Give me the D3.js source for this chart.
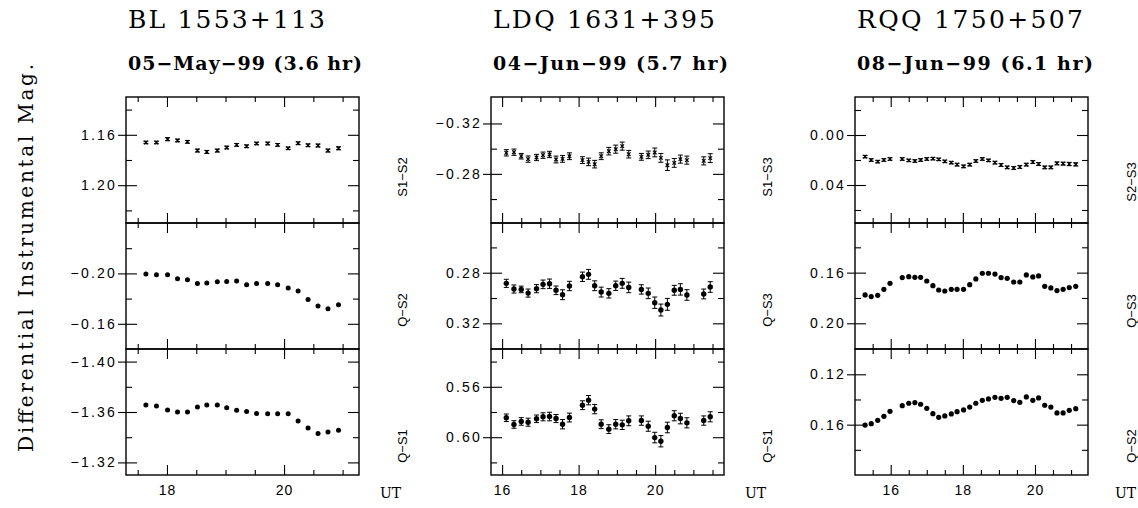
<!DOCTYPE html>
<html>
<head>
<meta charset="utf-8">
<script src="https://cdn.jsdelivr.net/npm/d3@7"></script>
<style>
    body { margin: 0; background: #fff; }
    svg { display: block; }
    .tick text { font-family: "Liberation Sans", Arial, sans-serif; font-size: 14px; letter-spacing: 2.2px; fill: #000; }
    .tick line { stroke: #000; stroke-width: 1.1; }
    .serif { font-family: "DejaVu Serif", "Liberation Serif", serif; fill: #000; }
    .sans { font-family: "Liberation Sans", Arial, sans-serif; fill: #000; }
</style>
</head>
<body>
<div id="chart"></div>
<script>
// ---- BL 1553+113, 05-May-99 ----
const utBL = [17.64, 17.82, 18.01, 18.18, 18.35, 18.52, 18.68, 18.86, 19.02, 19.19,
              19.36, 19.53, 19.72, 19.89, 20.07, 20.24, 20.41, 20.58, 20.75, 20.93];
const blS1S2 = [1.1661, 1.1661, 1.1635, 1.1645, 1.1656, 1.1725, 1.1736, 1.1725, 1.1701, 1.1680,
                1.1691, 1.1669, 1.1669, 1.1680, 1.1707, 1.1667, 1.1683, 1.1685, 1.1725, 1.1707];
const blS1S2Err = [0.0010, 0.0010, 0.0012, 0.0011, 0.0011, 0.0012, 0.0012, 0.0012, 0.0011, 0.0011,
                   0.0011, 0.0010, 0.0011, 0.0011, 0.0010, 0.0011, 0.0011, 0.0012, 0.0012, 0.0012];
const blQS2 = [-0.1995, -0.1989, -0.1989, -0.1957, -0.1949, -0.1920, -0.1923, -0.1933, -0.1936, -0.1939,
               -0.1909, -0.1920, -0.1920, -0.1909, -0.1885, -0.1861, -0.1792, -0.1741, -0.1720, -0.1752];
const blQS1 = [-1.3655, -1.3647, -1.3616, -1.3600, -1.3600, -1.3639, -1.3655, -1.3655, -1.3634, -1.3613,
               -1.3603, -1.3589, -1.3587, -1.3587, -1.3587, -1.3529, -1.3474, -1.3429, -1.3442, -1.3455];

// ---- LDQ 1631+395, 04-Jun-99 ----
const utLDQ = [16.11, 16.31, 16.50, 16.68, 16.90, 17.07, 17.24, 17.41, 17.58, 17.76,
               18.10, 18.26, 18.42, 18.59, 18.79, 18.97, 19.14, 19.31, 19.64, 19.82,
               19.99, 20.15, 20.32, 20.50, 20.66, 20.83, 21.27, 21.44];
const ldqS1S3 = [-0.2967, -0.2972, -0.2940, -0.2917, -0.2930, -0.2948, -0.2954, -0.2914, -0.2919, -0.2940,
                 -0.2909, -0.2895, -0.2877, -0.2940, -0.2980, -0.2996, -0.3020, -0.2956, -0.2935, -0.2951,
                 -0.2970, -0.2927, -0.2869, -0.2887, -0.2917, -0.2909, -0.2903, -0.2925];
const ldqS1S3Err = [0.0025, 0.0025, 0.0022, 0.0025, 0.0025, 0.0025, 0.0025, 0.0027, 0.0027, 0.0027,
                    0.0027, 0.0030, 0.0030, 0.0027, 0.0030, 0.0032, 0.0032, 0.0030, 0.0027, 0.0030,
                    0.0035, 0.0035, 0.0042, 0.0035, 0.0032, 0.0032, 0.0032, 0.0035];
const ldqQS3 = [0.2884, 0.2929, 0.2932, 0.2961, 0.2926, 0.2892, 0.2887, 0.2939, 0.2974, 0.2905,
                0.2832, 0.2813, 0.2903, 0.2953, 0.2963, 0.2903, 0.2884, 0.2916, 0.2932, 0.2963,
                0.3037, 0.3095, 0.3050, 0.2939, 0.2932, 0.2976, 0.2968, 0.2913];
const ldqQS3Err = [0.0032, 0.0032, 0.0026, 0.0032, 0.0032, 0.0034, 0.0037, 0.0034, 0.0039, 0.0037,
                   0.0037, 0.0039, 0.0039, 0.0039, 0.0037, 0.0037, 0.0039, 0.0042, 0.0037, 0.0042,
                   0.0045, 0.0047, 0.0047, 0.0039, 0.0045, 0.0042, 0.0039, 0.0042];
const ldqQS1 = [0.5846, 0.5899, 0.5875, 0.5881, 0.5854, 0.5838, 0.5836, 0.5852, 0.5897, 0.5844,
                0.5746, 0.5706, 0.5777, 0.5897, 0.5936, 0.5897, 0.5902, 0.5870, 0.5868, 0.5913,
                0.6003, 0.6032, 0.5923, 0.5830, 0.5852, 0.5886, 0.5868, 0.5838];
const ldqQS1Err = [0.0030, 0.0030, 0.0030, 0.0032, 0.0030, 0.0032, 0.0034, 0.0032, 0.0037, 0.0035,
                   0.0035, 0.0037, 0.0037, 0.0035, 0.0035, 0.0037, 0.0037, 0.0039, 0.0037, 0.0040,
                   0.0042, 0.0045, 0.0042, 0.0040, 0.0042, 0.0040, 0.0037, 0.0040];

// ---- RQQ 1750+507, 08-Jun-99 ----
const utRQQ = [15.29, 15.46, 15.64, 15.81, 15.98, 16.32, 16.50, 16.67, 16.83, 17.00,
               17.17, 17.33, 17.50, 17.68, 17.84, 18.02, 18.19, 18.36, 18.54, 18.71,
               18.89, 19.06, 19.23, 19.41, 19.58, 19.76, 19.94, 20.10, 20.27, 20.44,
               20.61, 20.78, 20.95, 21.13];
const rqqS2S3 = [0.0173, 0.0200, 0.0213, 0.0200, 0.0192, 0.0192, 0.0203, 0.0208, 0.0200, 0.0192,
                 0.0189, 0.0195, 0.0211, 0.0221, 0.0237, 0.0251, 0.0237, 0.0208, 0.0192, 0.0203,
                 0.0221, 0.0240, 0.0259, 0.0264, 0.0256, 0.0237, 0.0216, 0.0232, 0.0259, 0.0259,
                 0.0227, 0.0229, 0.0232, 0.0235];
const rqqS2S3Err = [0.0010, 0.0010, 0.0010, 0.0010, 0.0010, 0.0010, 0.0010, 0.0010, 0.0010, 0.0010,
                    0.0010, 0.0010, 0.0010, 0.0010, 0.0011, 0.0011, 0.0011, 0.0010, 0.0010, 0.0010,
                    0.0011, 0.0011, 0.0011, 0.0011, 0.0011, 0.0011, 0.0011, 0.0011, 0.0011, 0.0011,
                    0.0012, 0.0012, 0.0013, 0.0013];
const rqqQS3 = [0.1776, 0.1789, 0.1779, 0.1732, 0.1684, 0.1639, 0.1632, 0.1637, 0.1637, 0.1666,
                0.1703, 0.1737, 0.1745, 0.1732, 0.1732, 0.1732, 0.1695, 0.1650, 0.1605, 0.1605,
                0.1611, 0.1639, 0.1645, 0.1674, 0.1674, 0.1618, 0.1634, 0.1626, 0.1708, 0.1721,
                0.1742, 0.1732, 0.1718, 0.1708];
const rqqQS2 = [0.1603, 0.1592, 0.1566, 0.1534, 0.1494, 0.1449, 0.1430, 0.1425, 0.1438, 0.1470,
                0.1513, 0.1542, 0.1531, 0.1515, 0.1497, 0.1483, 0.1460, 0.1430, 0.1407, 0.1396,
                0.1383, 0.1391, 0.1383, 0.1409, 0.1423, 0.1380, 0.1407, 0.1388, 0.1446, 0.1460,
                0.1507, 0.1507, 0.1486, 0.1473];

// Titles and labels
const objectNames = ["BL 1553+113", "LDQ 1631+395", "RQQ 1750+507"];
const nightLabels = ["05\u2212May\u221299 (3.6 hr)", "04\u2212Jun\u221299 (5.7 hr)", "08\u2212Jun\u221299 (6.1 hr)"];
const rowLabelsBL = ["S1\u2212S2", "Q\u2212S2", "Q\u2212S1"];
const rowLabelsLDQ = ["S1\u2212S3", "Q\u2212S3", "Q\u2212S1"];
const rowLabelsRQQ = ["S2\u2212S3", "Q\u2212S3", "Q\u2212S2"];

// Layout
const W = 1138, H = 508;
const panelWidth = 233;
const rowTop = [97, 223, 349];
const rowHeight = 126;

const panels = [
    {
        left: 126, xDomain: [17.30, 21.28], ut: utBL, labels: rowLabelsBL,
        titleW: 197, subW: 234, labelY: [177, 310, 446], utX: 380, r: 2.5,
        rows: [
            { values: blS1S2, err: blS1S2Err, mark: "cross", yDomain: [1.13, 1.23] },
            { values: blQS2, err: null, mark: "dot", yDomain: [-0.24, -0.14] },
            { values: blQS1, err: null, mark: "dot", yDomain: [-1.41, -1.31] }
        ]
    },
    {
        left: 491, xDomain: [15.71, 21.80], ut: utLDQ, labels: rowLabelsLDQ,
        titleW: 222, subW: 235, labelY: [177, 310, 446], utX: 745, r: 2.7,
        rows: [
            { values: ldqS1S3, err: ldqS1S3Err, mark: "cross", yDomain: [-0.341, -0.241] },
            { values: ldqQS3, err: ldqQS3Err, mark: "dot", yDomain: [0.2407, 0.3403] },
            { values: ldqQS1, err: ldqQS1Err, mark: "dot", yDomain: [0.530, 0.630] }
        ]
    },
    {
        left: 855, xDomain: [15.01, 21.47], ut: utRQQ, labels: rowLabelsRQQ,
        titleW: 226, subW: 236, labelY: [182, 311, 446], utX: 1115, r: 2.6,
        rows: [
            { values: rqqS2S3, err: rqqS2S3Err, mark: "cross", yDomain: [-0.0304, 0.0704] },
            { values: rqqQS3, err: null, mark: "dot", yDomain: [0.1208, 0.2203] },
            { values: rqqQS2, err: null, mark: "dot", yDomain: [0.0999, 0.20] }
        ]
    }
];

const svg = d3.select("#chart").append("svg")
    .attr("width", W)
    .attr("height", H);

// Shared y-axis title
svg.append("text")
    .attr("class", "serif")
    .attr("transform", "translate(33,258) rotate(-90)")
    .attr("text-anchor", "middle")
    .attr("font-size", 20)
    .attr("textLength", 388)
    .attr("lengthAdjust", "spacing")
    .text("Differential Instrumental Mag.");

// tick indices every `step`; majors are the even ones
function stepTicks(domain, step) {
    const lo = Math.min(domain[0], domain[1]), hi = Math.max(domain[0], domain[1]);
    const out = [];
    for (let k = Math.ceil(lo / step - 1e-6); k * step <= hi + 1e-9; k++) out.push(k);
    return out;
}

function cleanAxis(g) {
    g.select(".domain").remove();
}

panels.forEach((p, pi) => {
    const x = d3.scaleLinear().domain(p.xDomain).range([p.left, p.left + panelWidth]);
    const xk = stepTicks(p.xDomain, 0.5);
    const xMajor = xk.filter(k => k % 4 === 0).map(k => k * 0.5);
    const xMinor = xk.filter(k => k % 4 !== 0).map(k => k * 0.5)
        .filter(v => x(v) > p.left + 1 && x(v) < p.left + panelWidth - 1);

    // Titles
    svg.append("text")
        .attr("class", "serif")
        .attr("x", p.left + 2)
        .attr("y", 28)
        .attr("font-size", 25)
        .attr("textLength", p.titleW)
        .attr("lengthAdjust", "spacing")
        .text(objectNames[pi]);

    svg.append("text")
        .attr("class", "serif")
        .attr("x", p.left + 2)
        .attr("y", 70)
        .attr("font-size", 19)
        .attr("font-weight", "bold")
        .attr("textLength", p.subW)
        .attr("lengthAdjust", "spacing")
        .text(nightLabels[pi]);

    p.rows.forEach((row, ri) => {
        const top = rowTop[ri];
        const y = d3.scaleLinear().domain(row.yDomain).range([top, top + rowHeight]);
        const yk = stepTicks(row.yDomain, 0.02);
        const inside = v => y(v) > top + 2 && y(v) < top + rowHeight - 2;
        const yMajor = yk.filter(k => k % 2 === 0).map(k => k * 0.02).filter(inside);
        const yMinor = yk.filter(k => k % 2 !== 0).map(k => k * 0.02).filter(inside);

        // Box
        svg.append("rect")
            .attr("x", p.left)
            .attr("y", top)
            .attr("width", panelWidth)
            .attr("height", rowHeight)
            .attr("fill", "none")
            .attr("stroke", "#000")
            .attr("stroke-width", 1.4);

        // x ticks on top and bottom edges, pointing inward
        svg.append("g").attr("transform", `translate(0,${top})`)
            .call(d3.axisTop(x).tickValues(xMajor).tickSize(-10).tickFormat("")).call(cleanAxis);
        svg.append("g").attr("transform", `translate(0,${top})`)
            .call(d3.axisTop(x).tickValues(xMinor).tickSize(-5).tickFormat("")).call(cleanAxis);
        svg.append("g").attr("transform", `translate(0,${top + rowHeight})`)
            .call(d3.axisBottom(x).tickValues(xMajor).tickSize(-10).tickFormat("")).call(cleanAxis);
        svg.append("g").attr("transform", `translate(0,${top + rowHeight})`)
            .call(d3.axisBottom(x).tickValues(xMinor).tickSize(-5).tickFormat("")).call(cleanAxis);

        // y ticks: left majors project outward and carry labels
        svg.append("g").attr("transform", `translate(${p.left},0)`)
            .call(d3.axisLeft(y).tickValues(yMajor).tickSize(8).tickPadding(1).tickFormat(d3.format(".2f")))
            .call(cleanAxis);
        svg.append("g").attr("transform", `translate(${p.left},0)`)
            .call(d3.axisLeft(y).tickValues(yMajor).tickSize(-11).tickFormat("")).call(cleanAxis);
        svg.append("g").attr("transform", `translate(${p.left},0)`)
            .call(d3.axisLeft(y).tickValues(yMinor).tickSize(-6).tickFormat("")).call(cleanAxis);
        svg.append("g").attr("transform", `translate(${p.left + panelWidth},0)`)
            .call(d3.axisRight(y).tickValues(yMajor).tickSize(-11).tickFormat("")).call(cleanAxis);
        svg.append("g").attr("transform", `translate(${p.left + panelWidth},0)`)
            .call(d3.axisRight(y).tickValues(yMinor).tickSize(-6).tickFormat("")).call(cleanAxis);

        // Error bars with small caps
        const pts = p.ut.map((t, i) => ({ t: t, v: row.values[i], e: row.err ? row.err[i] : 0 }));
        const eb = svg.append("g").attr("stroke", "#000").attr("stroke-width", 1);
        if (row.err) {
            pts.forEach(d => {
                const cx = x(d.t), y0 = y(d.v - d.e), y1 = y(d.v + d.e);
                eb.append("line").attr("x1", cx).attr("x2", cx).attr("y1", y0).attr("y2", y1);
                eb.append("line").attr("x1", cx - 2.5).attr("x2", cx + 2.5).attr("y1", y0).attr("y2", y0);
                eb.append("line").attr("x1", cx - 2.5).attr("x2", cx + 2.5).attr("y1", y1).attr("y2", y1);
            });
        }

        // Markers
        if (row.mark === "dot") {
            svg.append("g").selectAll("circle")
                .data(pts)
                .enter().append("circle")
                .attr("cx", d => x(d.t))
                .attr("cy", d => y(d.v))
                .attr("r", p.r)
                .attr("fill", "#000");
        } else {
            svg.append("g").selectAll("path")
                .data(pts)
                .enter().append("path")
                .attr("d", d => {
                    const cx = x(d.t), cy = y(d.v), s = 1.8;
                    return `M${cx - s},${cy - s}L${cx + s},${cy + s}M${cx - s},${cy + s}L${cx + s},${cy - s}`;
                })
                .attr("stroke", "#000")
                .attr("stroke-width", 1.2)
                .attr("fill", "none");
        }

        // Row label on the right
        svg.append("text")
            .attr("class", "sans")
            .attr("transform", `translate(${p.left + panelWidth + 48},${p.labelY[ri]}) rotate(-90)`)
            .attr("text-anchor", "middle")
            .attr("font-size", 13)
            .text(p.labels[ri]);
    });

    // Bottom x labels
    svg.append("g").attr("transform", `translate(0,${rowTop[2] + rowHeight})`)
        .call(d3.axisBottom(x).tickValues(xMajor).tickSize(0).tickPadding(10).tickFormat(d3.format("d")))
        .call(cleanAxis)
        .selectAll("text").style("letter-spacing", "1px");

    svg.append("text")
        .attr("class", "serif")
        .attr("x", p.utX)
        .attr("y", 498)
        .attr("font-size", 14)
        .text("UT");
});
</script>
</body>
</html>
